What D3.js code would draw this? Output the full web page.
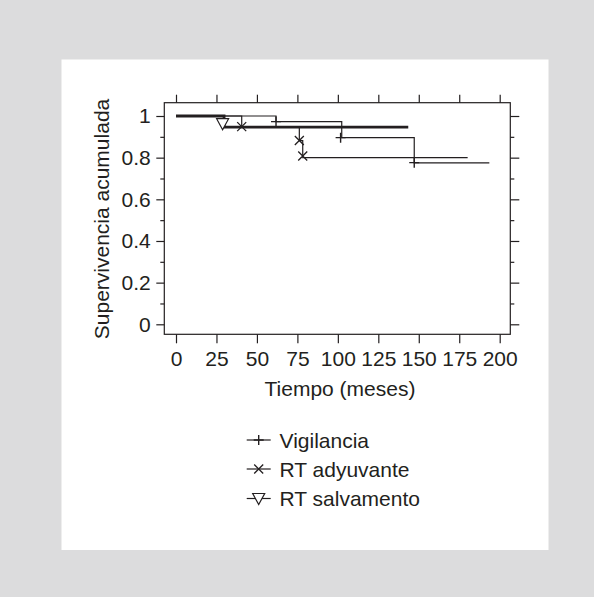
<!DOCTYPE html>
<html><head><meta charset="utf-8">
<script src="https://cdn.jsdelivr.net/npm/d3@7"></script>
<style>html,body{margin:0;padding:0;background:#dcdcdd;}svg{display:block;}</style>
</head><body>
<script>
// ---- data ----
const xTicks = [0, 25, 50, 75, 100, 125, 150, 175, 200];
const yTicks = [0, 0.2, 0.4, 0.6, 0.8, 1];
const yTickLabels = ["0", "0.2", "0.4", "0.6", "0.8", "1"];
const yMinorTicks = [0.1, 0.3, 0.5, 0.7, 0.9];
const seriesNames = ["Vigilancia", "RT adyuvante", "RT salvamento"];
// step curves (time, survival)
const vigTimes = [0, 61.8, 102.4, 147.2, 193.6];
const vigSurv  = [1, 0.973, 0.896, 0.775, 0.775];
const adyTimes = [0, 40.6, 76.2, 78.3, 180.2];
const adySurv  = [1, 0.947, 0.882, 0.80, 0.80];
const salTimes = [0, 29.7, 143.5];
const salSurv  = [1, 0.947, 0.947];
// markers
const vigMarkT = [61.8, 101.7, 147.2];
const vigMarkS = [0.973, 0.896, 0.776];
const adyMarkT = [40.6, 76.2, 78.3];
const adyMarkS = [0.949, 0.882, 0.808];
const salMarkT = [28.8];
const salMarkS = [0.963];

(function () {
const W = 594, H = 597;
const svg = d3.select("body").append("svg").attr("width", W).attr("height", H);
svg.append("rect").attr("width", W).attr("height", H).attr("fill", "#dcdcdd");
svg.append("rect").attr("x", 61.5).attr("y", 59.5).attr("width", 487).attr("height", 490.5).attr("fill", "#fff");

const ink = "#231f20";
const font = "'Liberation Sans', Arial, Helvetica, sans-serif";
const fs = "21px";
const x = d3.scaleLinear().domain([0, 200]).range([176, 499.7]);
const y = d3.scaleLinear().domain([0, 1]).range([324.3, 116]);
const box = {l: 164.3, r: 510.3, t: 102.7, b: 334.3};

const g = svg.append("g");
g.append("rect").attr("x", box.l).attr("y", box.t).attr("width", box.r - box.l).attr("height", box.b - box.t)
  .attr("fill", "none").attr("stroke", ink).attr("stroke-width", 1.2);

const axBottom = d3.axisBottom(x).tickValues(xTicks).tickSize(9).tickFormat(d3.format("d"));
const axTop = d3.axisTop(x).tickValues(xTicks).tickSize(8).tickFormat("");
const axLeft = d3.axisLeft(y).tickValues(yTicks).tickSize(8).tickPadding(5.6).tickFormat((d, i) => yTickLabels[i]);
const axRight = d3.axisRight(y).tickValues(yTicks).tickSize(9).tickFormat("");
const axLeftMinor = d3.axisLeft(y).tickValues(yMinorTicks).tickSize(4).tickFormat("");
const axRightMinor = d3.axisRight(y).tickValues(yMinorTicks).tickSize(4).tickFormat("");

function styleAxis(sel) {
  sel.select(".domain").remove();
  sel.selectAll("line").attr("stroke", ink).attr("stroke-width", 1.2);
  sel.selectAll("text").attr("fill", ink).style("font-family", font).style("font-size", fs);
}
const gb = g.append("g").attr("transform", `translate(0,${box.b})`).call(axBottom).call(styleAxis);
gb.selectAll("text").attr("y", 366 - box.b).attr("dy", 0);
g.append("g").attr("transform", `translate(0,${box.t})`).call(axTop).call(styleAxis);
g.append("g").attr("transform", `translate(${box.l},0)`).call(axLeft).call(styleAxis);
g.append("g").attr("transform", `translate(${box.r},0)`).call(axRight).call(styleAxis);
g.append("g").attr("transform", `translate(${box.l},0)`).call(axLeftMinor).call(styleAxis);
g.append("g").attr("transform", `translate(${box.r},0)`).call(axRightMinor).call(styleAxis);

g.append("text").attr("x", 340).attr("y", 396).attr("text-anchor", "middle")
  .attr("fill", ink).style("font-family", font).style("font-size", fs).text("Tiempo (meses)");
g.append("text").attr("transform", `translate(109,219) rotate(-90)`).attr("text-anchor", "middle")
  .attr("fill", ink).style("font-family", font).style("font-size", fs).text("Supervivencia acumulada");

const line = d3.line().x(d => x(d[0])).y(d => y(d[1])).curve(d3.curveStepAfter);
const zip = (a, b) => a.map((v, i) => [v, b[i]]);
const curves = [
  {t: adyTimes, s: adySurv, w: 1.2},
  {t: vigTimes, s: vigSurv, w: 1.2},
  {t: salTimes, s: salSurv, w: 2.8},
];
curves.forEach(c => {
  g.append("path").attr("d", line(zip(c.t, c.s))).attr("fill", "none")
    .attr("stroke", ink).attr("stroke-width", c.w);
});

function plus(sel, cx, cy) {
  sel.append("path").attr("d", `M${cx-5},${cy}H${cx+5}M${cx},${cy-5}V${cy+5}`)
    .attr("stroke", ink).attr("stroke-width", 1.4).attr("fill", "none");
}
function cross(sel, cx, cy) {
  const s = 4.5;
  sel.append("path").attr("d", `M${cx-s},${cy-s}L${cx+s},${cy+s}M${cx-s},${cy+s}L${cx+s},${cy-s}`)
    .attr("stroke", ink).attr("stroke-width", 1.3).attr("fill", "none");
}
function tri(sel, cx, cy) {
  sel.append("path").attr("d", `M${cx-6},${cy-5}L${cx+6},${cy-5}L${cx},${cy+6}Z`)
    .attr("stroke", ink).attr("stroke-width", 1.2).attr("fill", "#fff");
}
vigMarkT.forEach((t, i) => plus(g, x(t), y(vigMarkS[i])));
adyMarkT.forEach((t, i) => cross(g, x(t), y(adyMarkS[i])));
salMarkT.forEach((t, i) => tri(g, x(t), y(salMarkS[i])));

const markFns = [plus, cross, tri];
const legY = [440, 469, 498.5];
seriesNames.forEach((name, i) => {
  const ly = legY[i];
  g.append("line").attr("x1", 246.7).attr("x2", 270.7).attr("y1", ly).attr("y2", ly)
    .attr("stroke", ink).attr("stroke-width", 1.2);
  markFns[i](g, 258.7, ly);
  g.append("text").attr("x", 279.5).attr("y", ly + 7.5).attr("fill", ink)
    .style("font-family", font).style("font-size", fs).text(name);
});
})();
</script>
</body></html>
